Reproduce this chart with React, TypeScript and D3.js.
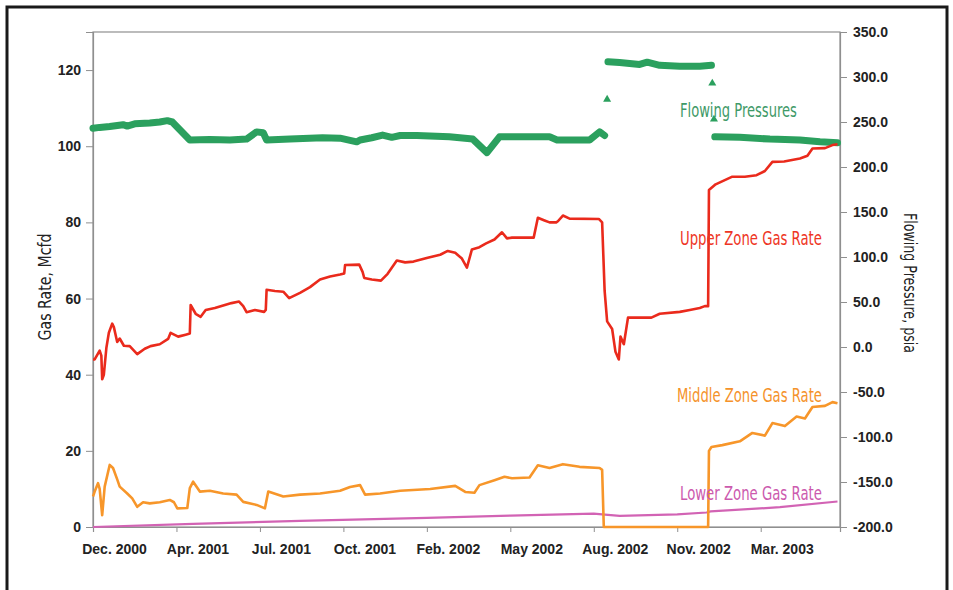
import React, { useEffect, useRef } from 'react';
import * as d3 from 'd3';

// x values are days counted from the start of the record (Dec. 2000)
const dateLabels = ['Dec. 2000', 'Apr. 2001', 'Jul. 2001', 'Oct. 2001', 'Feb. 2002', 'May 2002', 'Aug. 2002', 'Nov. 2002', 'Mar. 2003'];
const tickDays = [0, 100, 200, 300, 400, 500, 600, 700, 800];
const rateTicks = [0, 20, 40, 60, 80, 100, 120];
const pressureTicks = [-200, -150, -100, -50, 0, 50, 100, 150, 200, 250, 300, 350];

// Upper zone gas rate, Mcfd
const upperRate: [number, number][] = [
  [0, 44], [2, 44], [8, 46.3], [10, 45], [11, 38.8], [13, 40], [16, 47], [19, 51], [23, 53.4], [25, 52.5],
  [29, 48.6], [32, 49.5], [37, 47.6], [44, 47.5], [53, 45.4], [62, 46.8], [69, 47.5], [80, 48], [90, 49.4],
  [93, 51], [102, 50], [111, 50.5], [116, 50.8], [117, 58.3], [123, 56], [129, 55.2], [135, 57], [146, 57.5],
  [158, 58.3], [166, 58.8], [175, 59.2], [180, 58], [184, 56.4], [194, 57], [205, 56.5], [207, 57], [208, 62.3],
  [218, 62], [228, 61.8], [235, 60.1], [248, 61.5], [260, 63], [272, 65], [284, 65.8], [296, 66.3], [301, 66.6],
  [302, 68.8], [319, 68.9], [323, 67], [325, 65.4], [334, 65], [345, 64.7], [353, 66.5], [364, 70], [374, 69.5],
  [384, 69.7], [401, 70.7], [416, 71.5], [425, 72.5], [434, 72], [442, 70.5], [448, 68.1], [454, 72.9],
  [463, 73.5], [471, 74.5], [481, 75.5], [490, 77.4], [496, 75.8], [502, 76], [528, 76], [533, 81.2],
  [541, 80.5], [547, 80], [555, 80], [557, 80.3], [563, 81.8], [571, 81], [606, 80.9], [610, 80], [613, 62],
  [616, 54], [622, 52], [626, 46], [630, 44], [632, 50], [636, 48], [641, 55], [655, 55], [669, 55], [679, 56],
  [703, 56.5], [715, 57], [727, 57.5], [733, 58], [737, 58], [738, 88.5], [746, 90], [766, 92], [781, 92],
  [795, 92.4], [805, 93.5], [814, 95.9], [828, 96], [847, 96.8], [856, 97.5], [862, 99.4], [877, 99.5],
  [886, 100.3], [892, 100.5],
];

// Middle zone gas rate, Mcfd
const middleRate: [number, number][] = [
  [0, 8], [2, 9.3], [6, 11.5], [8, 10], [11, 3.1], [14, 10.6], [20, 16.3], [24, 15.5], [29, 12.5], [32, 10.6],
  [41, 8.8], [47, 7.5], [53, 5.3], [60, 6.5], [68, 6.2], [80, 6.5], [92, 7.1], [97, 6.5], [101, 4.9], [113, 5],
  [116, 10.2], [120, 11.9], [128, 9.3], [140, 9.5], [156, 8.8], [172, 8.5], [180, 6.6], [196, 5.8], [206, 4.9],
  [210, 9.3], [228, 8], [248, 8.5], [272, 8.8], [296, 9.5], [308, 10.5], [320, 11], [326, 8.5], [344, 8.8],
  [368, 9.5], [404, 10], [434, 10.8], [446, 9.2], [457, 9], [463, 11], [481, 12.3], [493, 13.2], [502, 12.8],
  [523, 13], [533, 16.2], [547, 15.5], [563, 16.5], [583, 15.8], [607, 15.5], [610, 15], [612, 0], [737, 0],
  [738, 20], [741, 21], [754, 21.5], [775, 22.5], [790, 24.7], [805, 24], [814, 27.3], [829, 26.5], [843, 29],
  [853, 28.5], [862, 31.5], [877, 31.8], [886, 32.8], [892, 32.5],
];

// Lower zone gas rate, Mcfd
const lowerRate: [number, number][] = [
  [0, 0], [120, 0.8], [248, 1.6], [400, 2.4], [500, 3], [600, 3.5], [610, 3.3], [631, 2.9], [700, 3.3],
  [735, 3.8], [740, 4.1], [823, 5.2], [892, 6.7],
];

// Flowing pressure, psia (three recorded stretches plus a few single readings)
const pressureEarly: [number, number][] = [
  [0, 243], [8, 244], [20, 245], [36, 247], [41, 245.5], [50, 248], [68, 249], [80, 250], [89, 251.5], [95, 250],
  [116, 230], [140, 230.5], [164, 230], [184, 231], [196, 239], [204, 238], [208, 230], [236, 231], [275, 232.5],
  [296, 232], [316, 228], [320, 230], [334, 232.5], [347, 235.5], [358, 233], [368, 235], [388, 235], [427, 233.5],
  [455, 231], [472, 216], [487, 233.5], [523, 233.5], [547, 233.5], [556, 230], [595, 230], [607, 239], [613, 235],
];
const pressureShutIn: [number, number][] = [
  [617, 317], [631, 316], [655, 314], [664, 316.5], [679, 313], [703, 312], [727, 312], [741, 313],
];
const pressureLate: [number, number][] = [
  [745, 233.5], [775, 233], [811, 231], [847, 230], [871, 228], [892, 227],
];
const pressureSingles: [number, number][] = [[616, 275], [742, 293], [744, 253]];

const seriesLabels = [
  { text: 'Flowing Pressures', color: '#3f9a68', x: 680, y: 117, w: 117 },
  { text: 'Upper Zone Gas Rate', color: '#ee3524', x: 680, y: 245, w: 142 },
  { text: 'Middle Zone Gas Rate', color: '#f5922a', x: 677, y: 402, w: 145 },
  { text: 'Lower Zone Gas Rate', color: '#cc5aae', x: 680, y: 500, w: 142 },
];

const condensed = '"Liberation Sans Narrow", "DejaVu Sans Condensed", "Arial Narrow", sans-serif';
const tickFont = '"Liberation Sans", Arial, sans-serif';

const App = () => {
  const ref = useRef<SVGSVGElement>(null);

  useEffect(() => {
    const svg = d3.select(ref.current);
    svg.selectAll('*').remove();

    const left = 93, right = 840, top = 32, bottom = 527;

    const x = d3.scaleLinear().domain([0, 895]).range([left, right]);
    const yRate = d3.scaleLinear().domain([0, 130]).range([bottom, top]);
    const yPress = d3.scaleLinear().domain([-200, 350]).range([bottom, top]);

    // outer frame
    svg.append('rect')
      .attr('x', 7).attr('y', 7).attr('width', 940).attr('height', 640)
      .attr('fill', 'none').attr('stroke', '#1a1a1a').attr('stroke-width', 3);

    // plot box
    svg.append('rect')
      .attr('x', left).attr('y', top).attr('width', right - left).attr('height', bottom - top)
      .attr('fill', '#fff').attr('stroke', '#8f8f8f').attr('stroke-width', 1.2);

    const styleAxis = (g) => {
      g.select('.domain').attr('stroke', '#8f8f8f').attr('stroke-width', 1.2);
      g.selectAll('.tick line').attr('stroke', '#8f8f8f');
      g.selectAll('.tick text')
        .attr('fill', '#222')
        .attr('font-family', tickFont)
        .attr('font-weight', 'bold')
        .attr('font-size', 14);
    };

    svg.append('g')
      .attr('transform', `translate(0,${bottom})`)
      .call(d3.axisBottom(x).tickValues(tickDays).tickFormat((d, i) => dateLabels[i]).tickSize(5).tickPadding(12))
      .call(styleAxis)
      .call(g => g.selectAll('.tick text').attr('dx', 21));

    svg.append('g')
      .attr('transform', `translate(${left},0)`)
      .call(d3.axisLeft(yRate).tickValues(rateTicks).tickFormat(d3.format('d')).tickSize(7).tickPadding(5))
      .call(styleAxis);

    svg.append('g')
      .attr('transform', `translate(${right},0)`)
      .call(d3.axisRight(yPress).tickValues(pressureTicks).tickSize(7).tickPadding(6))
      .call(styleAxis)
      .call(g => g.selectAll('.tick text').text(d => d3.format('.1f')(d).replace('−', '-')));

    const rateLine = d3.line<[number, number]>().x(d => x(d[0])).y(d => yRate(d[1]));
    const pressLine = d3.line<[number, number]>().x(d => x(d[0])).y(d => yPress(d[1]));

    const green = '#2ba05e';
    [pressureEarly, pressureShutIn, pressureLate].forEach(seg => {
      svg.append('path')
        .attr('d', pressLine(seg))
        .attr('fill', 'none')
        .attr('stroke', green)
        .attr('stroke-width', 7)
        .attr('stroke-linejoin', 'round')
        .attr('stroke-linecap', 'round');
    });
    svg.selectAll('.pdot')
      .data(pressureSingles)
      .enter().append('path')
      .attr('transform', d => `translate(${x(d[0])},${yPress(d[1])})`)
      .attr('d', d3.symbol().type(d3.symbolTriangle).size(28))
      .attr('fill', green);

    svg.append('path').attr('d', rateLine(lowerRate))
      .attr('fill', 'none').attr('stroke', '#d263b4').attr('stroke-width', 2.2);
    svg.append('path').attr('d', rateLine(middleRate))
      .attr('fill', 'none').attr('stroke', '#f7962a').attr('stroke-width', 2.6).attr('stroke-linejoin', 'round');
    svg.append('path').attr('d', rateLine(upperRate))
      .attr('fill', 'none').attr('stroke', '#ea2a1c').attr('stroke-width', 2.6).attr('stroke-linejoin', 'round');

    // squeeze a text horizontally so it spans the given width
    const fitWidth = (sel, w, base) => {
      sel.each(function () {
        const len = (this as SVGTextElement).getComputedTextLength() || w;
        d3.select(this).attr('transform', `${base} scale(${w / len},1)`);
      });
    };

    // series labels
    seriesLabels.forEach(d => {
      const t = svg.append('text')
        .attr('fill', d.color)
        .attr('font-family', condensed)
        .attr('font-size', 19)
        .text(d.text);
      fitWidth(t, d.w, `translate(${d.x},${d.y})`);
    });

    // axis titles
    const leftTitle = svg.append('text')
      .attr('text-anchor', 'middle')
      .attr('dominant-baseline', 'central')
      .attr('font-family', condensed)
      .attr('font-size', 18)
      .attr('fill', '#222')
      .text('Gas Rate, Mcfd');
    fitWidth(leftTitle, 107, 'translate(45,287) rotate(-90)');

    const rightTitle = svg.append('text')
      .attr('text-anchor', 'middle')
      .attr('dominant-baseline', 'central')
      .attr('font-family', condensed)
      .attr('font-size', 18)
      .attr('fill', '#222')
      .text('Flowing Pressure, psia');
    fitWidth(rightTitle, 140, 'translate(910,283) rotate(90)');
  }, []);

  return (
    <svg
      ref={ref}
      width={953}
      height={590}
      style={{ position: 'absolute', left: 0, top: 0, background: '#fff' }}
    />
  );
};

export default App;
